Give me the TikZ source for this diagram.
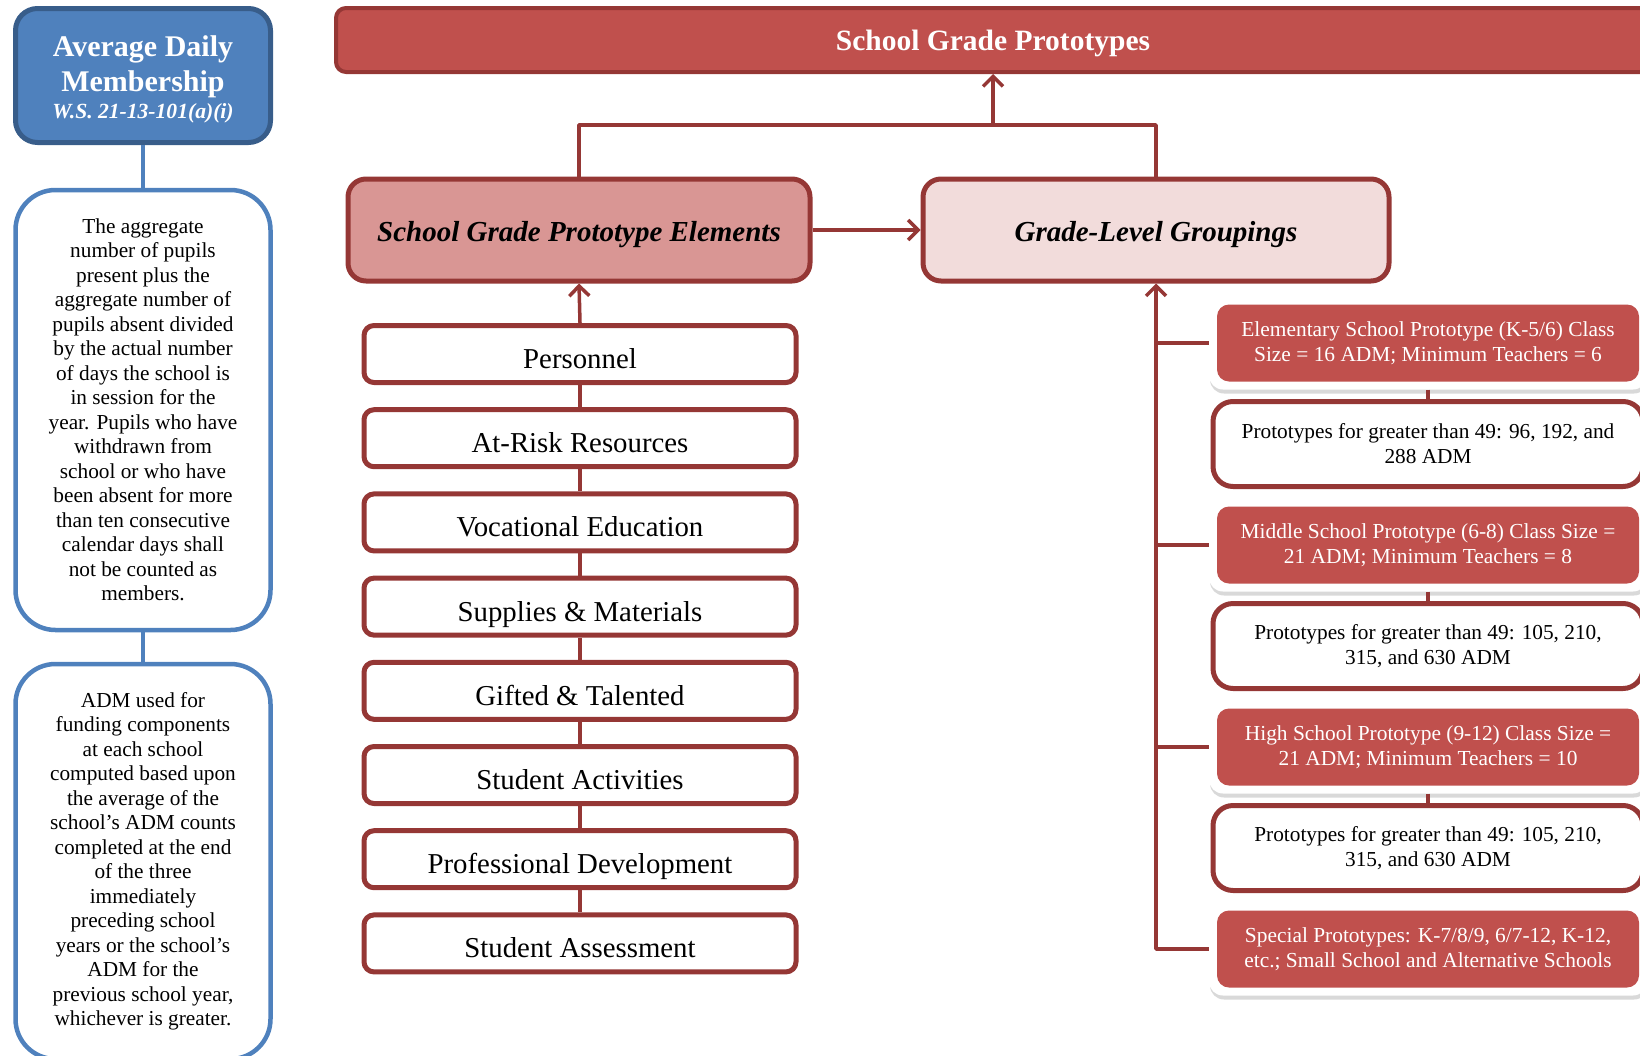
\documentclass[tikz,border=0pt]{standalone}
\usepackage{fontspec}
\setmainfont{Liberation Serif}
\usetikzlibrary{positioning, arrows.meta, shadows}

\definecolor{admblue}{HTML}{4F81BD}
\definecolor{admedge}{HTML}{385D8A}
\definecolor{protored}{HTML}{C0504D}
\definecolor{protoedge}{HTML}{953735}
\definecolor{elemfill}{HTML}{D99694}
\definecolor{groupfill}{HTML}{F2DCDB}

\begin{document}
\begin{tikzpicture}[x=1pt, y=-1pt, line join=round, >={Straight Barb[length=10pt,width=20pt]}]
        \tikzset{
          headbox/.style={draw=admedge, fill=admblue, line width=5pt, rounded corners=22pt,
            minimum width=255pt, minimum height=134pt, text=white, align=center,
            font=\fontsize{30}{35}\selectfont\bfseries},
          notebox/.style={draw=admblue, fill=white, line width=4.5pt, rounded corners=40pt,
            minimum width=255pt, align=center, font=\fontsize{21.3}{24.5}\selectfont},
          topbox/.style={draw=protoedge, fill=protored, line width=4pt, rounded corners=10pt,
            minimum width=1314pt, minimum height=64pt, text=white, text height=26pt, text depth=6pt,
            font=\fontsize{29.5}{32}\selectfont\bfseries},
          bigbox/.style={draw=protoedge, line width=5pt, rounded corners=18pt,
            minimum width=462pt, minimum height=102pt, text height=30pt, text depth=6.5pt,
            font=\fontsize{29}{32}\selectfont\bfseries\itshape},
          elembox/.style={draw=protoedge, fill=white, line width=5pt, rounded corners=10pt,
            minimum width=432pt, minimum height=57pt, text height=29pt, text depth=0pt,
            font=\fontsize{28.8}{32}\selectfont},
          protobox/.style={fill=white, rounded corners=14pt, minimum width=438pt, minimum height=93pt,
            text=white, align=center, font=\fontsize{21.4}{25}\selectfont,
            drop shadow={shadow xshift=1pt, shadow yshift=-4pt, opacity=0.3},
            path picture={\fill[protored, rounded corners=12pt]
              ([shift={(8pt,8pt)}]path picture bounding box.south west) rectangle
              ([shift={(-8pt,-8pt)}]path picture bounding box.north east);}},
          sizebox/.style={draw=protoedge, fill=white, line width=5pt, rounded corners=20pt,
            minimum width=430pt, minimum height=85pt, align=center, font=\fontsize{21.3}{25}\selectfont},
          link/.style={draw=protoedge, line width=3.5pt},
          bluelink/.style={draw=admblue, line width=4pt}
        }
        \useasboundingbox (0,0) rectangle (1640,1055);

        % ADM column
        \node[headbox] (adm) at (143,75.5) {\rule{0pt}{29pt}Average Daily\\Membership\\[-8pt]
          \fontsize{21.6}{24}\selectfont\bfseries\itshape W.S. 21-13-101(a)(i)};
        \node[notebox, minimum height=440pt] (def) at (143,410) {The aggregate\\number of pupils\\present plus the\\
          aggregate number of\\pupils absent divided\\by the actual number\\of days the school is\\in session for the\\
          year. Pupils who have\\withdrawn from\\school or who have\\been absent for more\\than ten consecutive\\
          calendar days shall\\not be counted as\\members.};
        \node[notebox, minimum height=395pt] (use) at (143,861.5) {ADM used for\\funding components\\at each school\\
          computed based upon\\the average of the\\school's ADM counts\\completed at the end\\of the three\\immediately\\
          preceding school\\years or the school's\\ADM for the\\previous school year,\\whichever is greater.};
        \path[bluelink]
        (adm) edge (def)
        (def) edge (use);

        % prototypes
        \node[topbox] (sgp) at (993,40) {School Grade Prototypes};
        \node[bigbox, fill=elemfill] (elems) at (579,230) {School Grade Prototype Elements};
        \node[bigbox, fill=groupfill, minimum width=466pt] (groups) at (1156,230) {Grade-Level Groupings};
        \coordinate (fork) at (993,125);
        \draw[link] (elems.north) |- (fork) -| (groups.north);
        \draw[link, ->] (fork) -- (sgp.south);
        \draw[link, ->] (elems.east) -- (groups.west);

        % elements
        \begin{scope}[node distance=84.2pt, on grid]
        \node[elembox] (e_1) at (580,354) {Personnel};
        \node[elembox] (e_2) [below=of e_1] {At-Risk Resources};
        \node[elembox] (e_3) [below=of e_2] {Vocational Education};
        \node[elembox] (e_4) [below=of e_3] {Supplies \& Materials};
        \node[elembox] (e_5) [below=of e_4] {Gifted \& Talented};
        \node[elembox] (e_6) [below=of e_5] {Student Activities};
        \node[elembox] (e_7) [below=of e_6] {Professional Development};
        \node[elembox] (e_8) [below=of e_7] {Student Assessment};
        \end{scope}
        \draw[link, ->] (e_1.north) -- (elems.south);
        \path[link]
        (e_1) edge (e_2)
        (e_2) edge (e_3)
        (e_3) edge (e_4)
        (e_4) edge (e_5)
        (e_5) edge (e_6)
        (e_6) edge (e_7)
        (e_7) edge (e_8);

        % grade levels
        \begin{scope}[node distance=101pt, on grid]
        \node[protobox] (p_1) at (1428,343) {Elementary School Prototype (K-5/6) Class\\Size = 16 ADM; Minimum Teachers = 6};
        \node[sizebox] (s_1) [below=of p_1] {Prototypes for greater than 49: 96, 192, and\\288 ADM};
        \node[protobox] (p_2) [below=of s_1] {Middle School Prototype (6-8) Class Size =\\21 ADM; Minimum Teachers = 8};
        \node[sizebox] (s_2) [below=of p_2] {Prototypes for greater than 49: 105, 210,\\315, and 630 ADM};
        \node[protobox] (p_3) [below=of s_2] {High School Prototype (9-12) Class Size =\\21 ADM; Minimum Teachers = 10};
        \node[sizebox] (s_3) [below=of p_3] {Prototypes for greater than 49: 105, 210,\\315, and 630 ADM};
        \node[protobox] (p_4) [below=of s_3] {Special Prototypes: K-7/8/9, 6/7-12, K-12,\\etc.; Small School and Alternative Schools};
        \end{scope}
        \coordinate (spine) at (groups.south |- p_4.west);
        \draw[link, ->] (p_4.west) -- (spine) -- (groups.south);
        \draw[link] (p_1.west) -- (groups.south |- p_1.west);
        \draw[link] (p_2.west) -- (groups.south |- p_2.west);
        \draw[link] (p_3.west) -- (groups.south |- p_3.west);
        \path[link]
        (p_1) edge (s_1)
        (p_2) edge (s_2)
        (p_3) edge (s_3);
\end{tikzpicture}
\end{document}
